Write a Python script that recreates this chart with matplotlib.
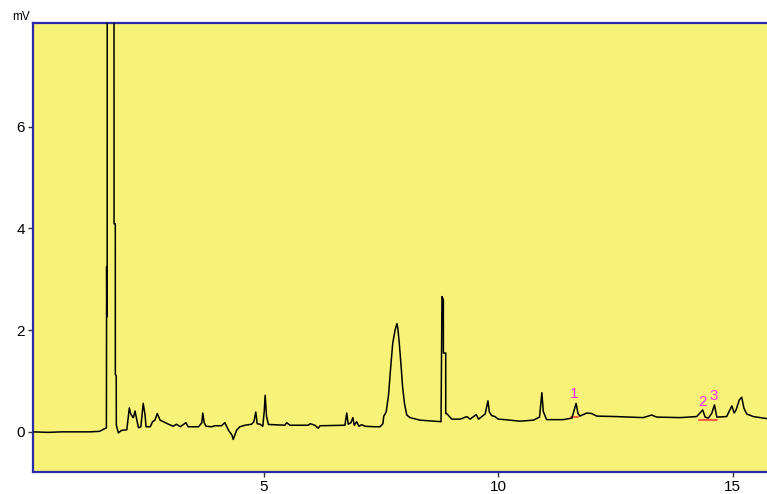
import matplotlib
matplotlib.use("Agg")
import matplotlib.pyplot as plt

# chromatogram trace (time in min, signal in mV)
time = [0.08, 0.40, 0.70, 1.00, 1.30, 1.50, 1.58, 1.63, 1.645, 1.650, 1.655,
        1.662, 1.665, 1.805, 1.808, 1.835, 1.836, 1.855, 1.857,
        1.90, 1.97, 2.08, 2.134, 2.16, 2.20, 2.22, 2.256, 2.29, 2.33, 2.38,
        2.43, 2.47, 2.49, 2.58, 2.63, 2.68, 2.73, 2.79, 2.90, 2.97, 3.07,
        3.14, 3.22, 3.34, 3.39, 3.61, 3.68, 3.70, 3.73, 3.77, 3.89, 3.96,
        4.10, 4.17, 4.25, 4.32, 4.35, 4.42, 4.49, 4.60, 4.74, 4.79, 4.83,
        4.86, 4.92, 4.98, 5.01, 5.03, 5.06, 5.10, 5.45, 5.49, 5.56, 5.95,
        5.99, 6.09, 6.16, 6.20, 6.73, 6.77, 6.80, 6.86, 6.90, 6.93, 6.98,
        7.03, 7.09, 7.16, 7.37, 7.48, 7.54, 7.56, 7.61, 7.66, 7.71, 7.75,
        7.80, 7.84, 7.86, 7.89, 7.93, 7.96, 8.00, 8.05, 8.12, 8.33, 8.78,
        8.80, 8.83, 8.83, 8.88, 8.88, 8.90, 9.01, 9.19, 9.33, 9.40, 9.53,
        9.58, 9.72, 9.78, 9.81, 9.86, 9.93, 10.00, 10.14, 10.46, 10.75,
        10.88, 10.93, 10.96, 11.03, 11.39, 11.57, 11.66, 11.70, 11.74,
        11.89, 11.99, 12.10, 12.53, 13.09, 13.27, 13.38, 13.88, 14.23,
        14.36, 14.41, 14.48, 14.55, 14.61, 14.66, 14.87, 14.98, 15.03,
        15.07, 15.14, 15.19, 15.24, 15.30, 15.44, 15.73]
signal = [0.00, -0.01, 0.00, 0.00, 0.00, 0.01, 0.05, 0.07, 0.08, 3.25, 2.26,
          3.25, 30.0, 30.0, 4.09, 4.09, 1.13, 1.10, 0.13,
          -0.02, 0.03, 0.04, 0.47, 0.36, 0.30, 0.28, 0.41, 0.25, 0.08, 0.10,
          0.56, 0.33, 0.10, 0.10, 0.20, 0.23, 0.36, 0.23, 0.18, 0.15, 0.11,
          0.15, 0.10, 0.18, 0.10, 0.10, 0.18, 0.37, 0.18, 0.11, 0.10, 0.12,
          0.12, 0.18, 0.03, -0.06, -0.15, 0.03, 0.10, 0.13, 0.15, 0.20, 0.39,
          0.16, 0.15, 0.11, 0.40, 0.72, 0.30, 0.145, 0.13, 0.18, 0.13, 0.13,
          0.16, 0.13, 0.07, 0.12, 0.13, 0.37, 0.15, 0.18, 0.28, 0.13, 0.20,
          0.11, 0.14, 0.11, 0.10, 0.10, 0.16, 0.31, 0.39, 0.72, 1.31, 1.74,
          2.00, 2.13, 2.03, 1.74, 1.28, 0.89, 0.56, 0.33, 0.28, 0.23, 0.20,
          2.66, 2.60, 1.55, 1.55, 0.36, 0.36, 0.25, 0.25, 0.30, 0.25, 0.34,
          0.25, 0.35, 0.61, 0.39, 0.32, 0.30, 0.25, 0.24, 0.21, 0.23,
          0.29, 0.77, 0.40, 0.24, 0.24, 0.27, 0.56, 0.36, 0.31,
          0.37, 0.36, 0.31, 0.30, 0.28, 0.33, 0.29, 0.28, 0.30,
          0.43, 0.29, 0.27, 0.36, 0.53, 0.29, 0.30, 0.51, 0.37,
          0.43, 0.63, 0.68, 0.46, 0.35, 0.30, 0.26]

# integrated peaks: label, label position, baseline
peak_names = ["1", "2", "3"]
peak_times = [11.62, 14.35, 14.60]
peak_label_y = [0.74, 0.59, 0.71]
base_start = [11.55, 14.29]
base_end = [11.71, 14.67]
base_level = [0.30, 0.24]

x_ticks = [5, 10, 15]
y_ticks = [0, 2, 4, 6]

font = ["Liberation Sans Narrow", "Liberation Sans", "DejaVu Sans"]
frame = "#2a2aa8"

fig = plt.figure(figsize=(7.67, 4.94), dpi=100)
ax = fig.add_axes([0.0424, 0.0445, 0.9576, 0.9089])
ax.set_facecolor("#f8f278")

ax.plot(time, signal, color="black", lw=1.1, zorder=3)
for s, e, b in zip(base_start, base_end, base_level):
    ax.plot([s, e], [b, b], color="#ff3030", lw=1.1, zorder=2)
for name, t, y in zip(peak_names, peak_times, peak_label_y):
    ax.text(t, y, name, color="#ff30ff", ha="center", va="center",
            fontsize=11, family=font, zorder=4)

ax.set_xlim(0.07, 15.73)
ax.set_ylim(-0.79, 8.04)
ax.set_xticks(x_ticks)
ax.set_yticks(y_ticks)
ax.tick_params(direction="out", length=3.5, width=1, color="#333333",
               labelsize=11, pad=2)
for lab in ax.get_xticklabels() + ax.get_yticklabels():
    lab.set_family(font)

for side in ["left", "top", "bottom"]:
    ax.spines[side].set_color(frame)
    ax.spines[side].set_linewidth(1.6)
ax.spines["right"].set_visible(False)

fig.text(12 / 767, 1 - 17 / 494, "mV", fontsize=8.5, family=font,
         va="center", ha="left")

fig.savefig("out.png", dpi=100)
